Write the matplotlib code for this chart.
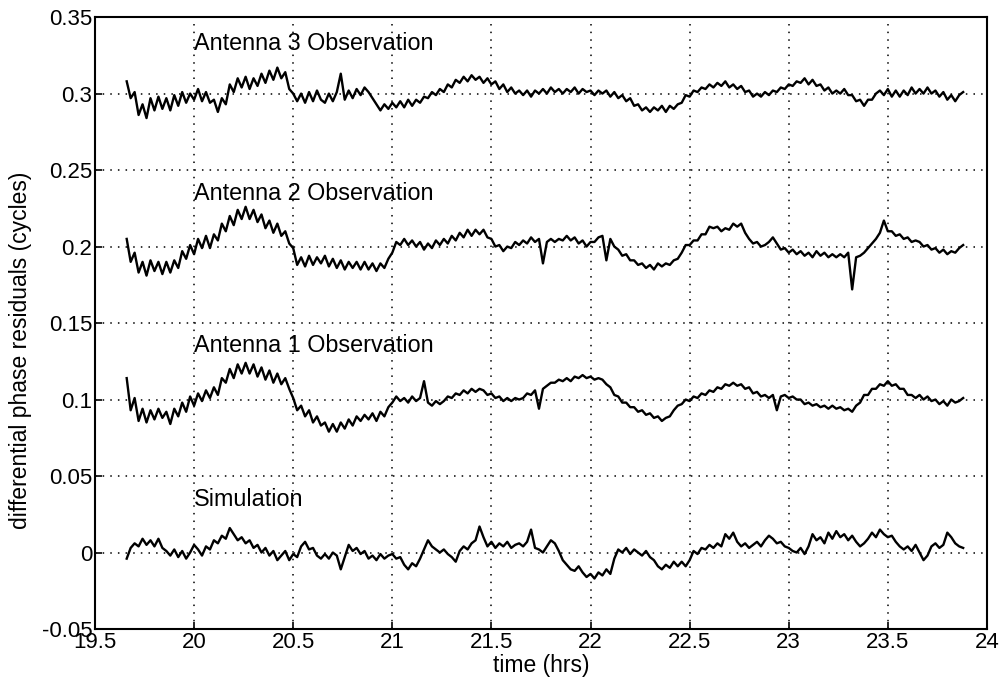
import numpy as np
import matplotlib
matplotlib.use("Agg")
import matplotlib.pyplot as plt

plt.rcParams['font.family'] = ['Liberation Sans', 'DejaVu Sans']

# time samples (hrs)
t_start, t_end, n_pts = 19.66, 23.88, 212
time_hrs = np.linspace(t_start, t_end, n_pts)

antenna3 = [
    0.308, 0.297, 0.301, 0.286, 0.293, 0.284, 0.297, 0.289, 0.298, 0.290,
    0.297, 0.289, 0.299, 0.292, 0.301, 0.294, 0.300, 0.296, 0.303, 0.295,
    0.301, 0.294, 0.296, 0.288, 0.297, 0.293, 0.306, 0.301, 0.310, 0.304,
    0.311, 0.303, 0.310, 0.305, 0.313, 0.307, 0.315, 0.309, 0.317, 0.310,
    0.314, 0.303, 0.300, 0.295, 0.300, 0.294, 0.301, 0.295, 0.302, 0.296,
    0.294, 0.300, 0.295, 0.301, 0.313, 0.296, 0.302, 0.297, 0.303, 0.299,
    0.304, 0.301, 0.297, 0.293, 0.289, 0.293, 0.290, 0.294, 0.291, 0.295,
    0.291, 0.296, 0.292, 0.296, 0.294, 0.298, 0.297, 0.301, 0.299, 0.303,
    0.301, 0.306, 0.304, 0.309, 0.307, 0.311, 0.308, 0.312, 0.309, 0.311,
    0.307, 0.310, 0.306, 0.308, 0.303, 0.306, 0.301, 0.304, 0.300, 0.302,
    0.299, 0.302, 0.298, 0.302, 0.300, 0.303, 0.300, 0.304, 0.301, 0.303,
    0.300, 0.303, 0.301, 0.304, 0.300, 0.303, 0.301, 0.302, 0.299, 0.302,
    0.300, 0.302, 0.298, 0.301, 0.297, 0.299, 0.295, 0.297, 0.292, 0.293,
    0.289, 0.291, 0.288, 0.291, 0.289, 0.292, 0.288, 0.292, 0.290, 0.293,
    0.294, 0.299, 0.298, 0.302, 0.301, 0.304, 0.303, 0.306, 0.304, 0.307,
    0.305, 0.308, 0.304, 0.306, 0.303, 0.305, 0.301, 0.302, 0.298, 0.300,
    0.298, 0.301, 0.299, 0.302, 0.301, 0.304, 0.303, 0.306, 0.305, 0.308,
    0.307, 0.310, 0.306, 0.309, 0.305, 0.306, 0.302, 0.304, 0.300, 0.302,
    0.300, 0.303, 0.299, 0.299, 0.295, 0.296, 0.292, 0.296, 0.296, 0.300,
    0.302, 0.299, 0.303, 0.298, 0.302, 0.298, 0.302, 0.299, 0.304, 0.300,
    0.303, 0.300, 0.304, 0.300, 0.302, 0.298, 0.301, 0.296, 0.299, 0.295,
    0.299, 0.301,
]

antenna2 = [
    0.205, 0.190, 0.196, 0.183, 0.190, 0.181, 0.191, 0.184, 0.190, 0.182,
    0.190, 0.183, 0.191, 0.186, 0.197, 0.192, 0.201, 0.195, 0.205, 0.199,
    0.207, 0.199, 0.208, 0.204, 0.215, 0.210, 0.220, 0.214, 0.224, 0.218,
    0.226, 0.218, 0.224, 0.216, 0.221, 0.212, 0.217, 0.209, 0.215, 0.207,
    0.210, 0.202, 0.199, 0.188, 0.193, 0.187, 0.194, 0.188, 0.193, 0.189,
    0.194, 0.187, 0.192, 0.186, 0.191, 0.185, 0.190, 0.186, 0.190, 0.185,
    0.190, 0.185, 0.189, 0.184, 0.189, 0.186, 0.192, 0.196, 0.203, 0.201,
    0.205, 0.201, 0.204, 0.200, 0.203, 0.198, 0.202, 0.199, 0.204, 0.201,
    0.205, 0.202, 0.207, 0.204, 0.209, 0.206, 0.211, 0.207, 0.211, 0.208,
    0.211, 0.206, 0.205, 0.200, 0.201, 0.197, 0.200, 0.199, 0.203, 0.201,
    0.204, 0.202, 0.206, 0.203, 0.205, 0.189, 0.203, 0.205, 0.203, 0.205,
    0.204, 0.207, 0.204, 0.206, 0.202, 0.204, 0.200, 0.203, 0.203, 0.206,
    0.207, 0.191, 0.205, 0.200, 0.198, 0.194, 0.195, 0.191, 0.191, 0.188,
    0.189, 0.186, 0.188, 0.185, 0.189, 0.187, 0.189, 0.188, 0.191, 0.192,
    0.196, 0.201, 0.201, 0.204, 0.204, 0.208, 0.208, 0.213, 0.212, 0.213,
    0.210, 0.212, 0.211, 0.215, 0.213, 0.215, 0.209, 0.205, 0.202, 0.203,
    0.200, 0.201, 0.203, 0.206, 0.202, 0.198, 0.199, 0.196, 0.198, 0.195,
    0.197, 0.194, 0.196, 0.193, 0.197, 0.194, 0.196, 0.193, 0.195, 0.193,
    0.195, 0.193, 0.196, 0.172, 0.193, 0.194, 0.196, 0.199, 0.202, 0.205,
    0.209, 0.217, 0.210, 0.210, 0.207, 0.208, 0.205, 0.206, 0.203, 0.204,
    0.203, 0.200, 0.201, 0.198, 0.199, 0.196, 0.198, 0.195, 0.197, 0.196,
    0.199, 0.201,
]

antenna1 = [
    0.114, 0.093, 0.101, 0.086, 0.094, 0.085, 0.093, 0.087, 0.094, 0.088,
    0.092, 0.084, 0.094, 0.089, 0.098, 0.092, 0.102, 0.096, 0.104, 0.099,
    0.106, 0.101, 0.108, 0.103, 0.114, 0.111, 0.120, 0.114, 0.123, 0.117,
    0.124, 0.117, 0.123, 0.115, 0.121, 0.113, 0.119, 0.111, 0.117, 0.110,
    0.114, 0.107, 0.101, 0.093, 0.096, 0.089, 0.093, 0.085, 0.089, 0.083,
    0.085, 0.079, 0.084, 0.079, 0.085, 0.081, 0.087, 0.083, 0.089, 0.086,
    0.090, 0.087, 0.091, 0.086, 0.092, 0.089, 0.095, 0.098, 0.102, 0.099,
    0.101, 0.098, 0.102, 0.099, 0.101, 0.112, 0.098, 0.096, 0.099, 0.097,
    0.099, 0.102, 0.101, 0.104, 0.103, 0.106, 0.104, 0.107, 0.105, 0.107,
    0.106, 0.103, 0.104, 0.101, 0.102, 0.099, 0.101, 0.099, 0.101, 0.100,
    0.101, 0.104, 0.103, 0.106, 0.094, 0.107, 0.109, 0.111, 0.111, 0.113,
    0.112, 0.114, 0.112, 0.115, 0.114, 0.116, 0.114, 0.115, 0.113, 0.114,
    0.113, 0.110, 0.108, 0.103, 0.102, 0.098, 0.098, 0.095, 0.095, 0.092,
    0.093, 0.090, 0.091, 0.088, 0.089, 0.086, 0.088, 0.089, 0.093, 0.096,
    0.097, 0.100, 0.099, 0.102, 0.101, 0.104, 0.103, 0.106, 0.105, 0.108,
    0.107, 0.110, 0.109, 0.111, 0.109, 0.110, 0.107, 0.108, 0.104, 0.105,
    0.102, 0.103, 0.101, 0.103, 0.093, 0.102, 0.103, 0.101, 0.102, 0.100,
    0.100, 0.097, 0.098, 0.096, 0.097, 0.095, 0.096, 0.094, 0.096, 0.094,
    0.095, 0.093, 0.094, 0.092, 0.096, 0.098, 0.103, 0.103, 0.107, 0.107,
    0.110, 0.109, 0.112, 0.109, 0.110, 0.107, 0.107, 0.103, 0.103, 0.101,
    0.103, 0.100, 0.102, 0.099, 0.100, 0.097, 0.099, 0.096, 0.100, 0.098,
    0.099, 0.101,
]

simulation = [
    -0.004, 0.003, 0.006, 0.004, 0.009, 0.005, 0.008, 0.004, 0.009, 0.003,
    0.001, -0.002, 0.002, -0.003, 0.001, -0.004, 0.000, 0.005, 0.002, -0.002,
    0.004, 0.002, 0.008, 0.006, 0.011, 0.009, 0.016, 0.012, 0.008, 0.010,
    0.006, 0.008, 0.003, 0.005, 0.000, 0.003, -0.002, 0.001, -0.005, -0.002,
    0.001, -0.005, -0.001, -0.003, 0.004, 0.007, 0.002, 0.003, -0.002, -0.004,
    -0.001, -0.004, 0.000, -0.002, -0.011, -0.003, 0.005, 0.001, 0.003, -0.001,
    0.001, -0.004, -0.002, -0.005, -0.001, -0.004, -0.002, -0.001, -0.004, -0.003,
    -0.008, -0.011, -0.007, -0.009, -0.004, 0.002, 0.008, 0.004, 0.002, 0.000,
    0.002, -0.001, -0.003, -0.006, 0.001, 0.004, 0.002, 0.006, 0.008, 0.017,
    0.010, 0.004, 0.007, 0.003, 0.006, 0.004, 0.007, 0.003, 0.005, 0.006,
    0.004, 0.007, 0.015, 0.003, 0.002, 0.000, 0.004, 0.008, 0.006, 0.001,
    -0.005, -0.008, -0.011, -0.012, -0.009, -0.013, -0.016, -0.014, -0.017, -0.013,
    -0.015, -0.011, -0.014, -0.004, 0.002, 0.000, 0.003, -0.001, 0.002, 0.000,
    -0.002, 0.001, -0.003, -0.005, -0.009, -0.011, -0.008, -0.010, -0.006, -0.009,
    -0.006, -0.009, -0.005, 0.001, -0.001, 0.003, 0.002, 0.005, 0.003, 0.006,
    0.004, 0.012, 0.009, 0.013, 0.007, 0.004, 0.006, 0.003, 0.005, 0.007,
    0.004, 0.008, 0.011, 0.009, 0.006, 0.007, 0.004, 0.003, 0.001, 0.000,
    0.003, -0.001, 0.004, 0.012, 0.008, 0.010, 0.006, 0.013, 0.009, 0.014,
    0.010, 0.012, 0.008, 0.011, 0.007, 0.004, 0.006, 0.009, 0.013, 0.010,
    0.015, 0.012, 0.010, 0.011, 0.007, 0.004, 0.002, 0.004, 0.001, 0.005,
    0.000, -0.005, -0.002, 0.004, 0.006, 0.003, 0.005, 0.013, 0.010, 0.006,
    0.004, 0.003,
]

series_labels = ["Antenna 3 Observation", "Antenna 2 Observation",
                 "Antenna 1 Observation", "Simulation"]
label_y = [0.3325, 0.2345, 0.1355, 0.0345]
label_x = 20.0

x_ticks = [19.5, 20, 20.5, 21, 21.5, 22, 22.5, 23, 23.5, 24]
x_tick_labels = ["19.5", "20", "20.5", "21", "21.5", "22", "22.5", "23", "23.5", "24"]
y_ticks = [-0.05, 0, 0.05, 0.1, 0.15, 0.2, 0.25, 0.3, 0.35]
y_tick_labels = ["-0.05", "0", "0.05", "0.1", "0.15", "0.2", "0.25", "0.3", "0.35"]

fig = plt.figure(figsize=(10.03, 6.84), dpi=100)
ax = fig.add_axes([0.0947, 0.0804, 0.8893, 0.8946])

for s in [antenna3, antenna2, antenna1, simulation]:
    ax.plot(time_hrs, s, color='black', linewidth=1.7)

for lab, ly in zip(series_labels, label_y):
    ax.text(label_x, ly, lab, fontsize=16.8, color='black', ha='left', va='center')

ax.set_xlim(19.5, 24)
ax.set_ylim(-0.05, 0.35)
ax.set_xticks(x_ticks)
ax.set_xticklabels(x_tick_labels, fontsize=16)
ax.set_yticks(y_ticks)
ax.set_yticklabels(y_tick_labels, fontsize=16)
ax.tick_params(direction='in', length=5, width=1.2, top=False, right=False, pad=2)
ax.grid(True, linestyle=(0, (1, 4)), color='black', linewidth=1.1)
for sp in ax.spines.values():
    sp.set_linewidth(1.5)
ax.set_xlabel("time (hrs)", fontsize=16.5, labelpad=1)
ax.set_ylabel("differential phase residuals (cycles)", fontsize=16.5)
ax.yaxis.set_label_coords(-0.071, 0.456)

fig.savefig("out.png", dpi=100)
